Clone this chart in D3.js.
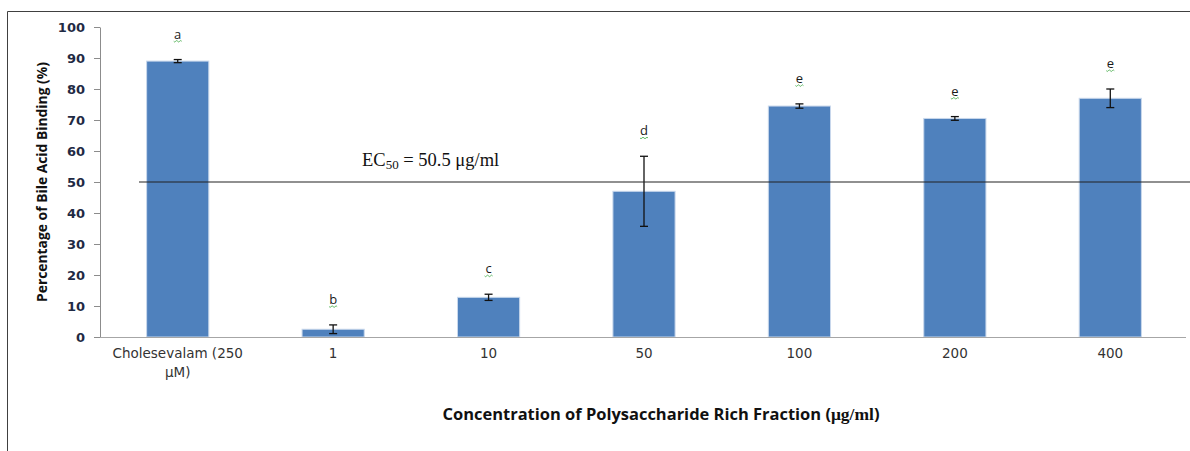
<!DOCTYPE html>
<html>
<head>
<meta charset="utf-8">
<script src="https://cdn.jsdelivr.net/npm/d3@7"></script>
<style>
  body { margin: 0; background: #fff; }
  svg { display: block; }
</style>
</head>
<body>
<script>
// =================== Data ======================
const categories = ["Cholesevalam (250 μM)", "1", "10", "50", "100", "200", "400"];
const binding = [89, 2.5, 12.8, 47, 74.5, 70.5, 77];
const errors = [0.5, 1.4, 1.0, 11.3, 0.7, 0.6, 3.0];
const letters = ["a", "b", "c", "d", "e", "e", "e"];
const yTicks = [0, 10, 20, 30, 40, 50, 60, 70, 80, 90, 100];
const ec50 = 50;

const data = categories.map(function(c, i) {
  return {cat: c, value: binding[i], err: errors[i], letter: letters[i]};
});

// =================== Chart Prep ======================
const W = 1190, H = 451;
var margin = {top: 27, right: 2, bottom: 114, left: 100},
    width = W - margin.left - margin.right,
    height = H - margin.top - margin.bottom;

var x = d3.scaleBand()
          .domain(categories)
          .range([0, width])
          .paddingInner(0.6)
          .paddingOuter(0.3);

var y = d3.scaleLinear()
          .domain([0, 100])
          .range([height, 0]);

var svg = d3.select("body").append("svg")
            .attr("width", W)
            .attr("height", H);

// outer frame (only the top and left edges are visible)
svg.append("path")
   .attr("d", "M7.5," + H + "V11.5H" + W)
   .attr("fill", "none")
   .attr("stroke", "#404040")
   .attr("stroke-width", 1);

var g = svg.append("g")
           .attr("transform", "translate(" + margin.left + "," + margin.top + ")");

// =================== Axes ======================
var yAxis = g.append("g")
   .call(d3.axisLeft(y).tickValues(yTicks).tickSize(6).tickPadding(9).tickSizeOuter(0));
yAxis.select(".domain").attr("stroke", "#8c8c8c");
yAxis.selectAll(".tick line").attr("stroke", "#8c8c8c");
yAxis.selectAll(".tick text")
   .attr("font-family", "'DejaVu Sans', sans-serif")
   .attr("font-size", 13)
   .attr("font-weight", "bold")
   .attr("fill", "#1f2a44");

// bars
g.selectAll(".bar")
   .data(data)
   .enter()
   .append("rect")
   .attr("class", "bar")
   .attr("x", function(d) { return x(d.cat); })
   .attr("width", x.bandwidth())
   .attr("y", function(d) { return y(d.value); })
   .attr("height", function(d) { return height - y(d.value); })
   .attr("fill", "#4f81bd")
   .attr("stroke", "#c9d8ec")
   .attr("stroke-width", 1);

// x axis line
g.append("line")
   .attr("x1", 0).attr("x2", width - 2)
   .attr("y1", height + 0.5).attr("y2", height + 0.5)
   .attr("stroke", "#a6a6a6");

// x tick labels (wrap the first one like Excel does)
var xLab = g.selectAll(".xlab")
   .data(data)
   .enter()
   .append("text")
   .attr("class", "xlab")
   .attr("x", function(d) { return x(d.cat) + x.bandwidth() / 2; })
   .attr("y", height + 21)
   .attr("text-anchor", "middle")
   .attr("font-family", "'DejaVu Sans', sans-serif")
   .attr("font-size", 13.5)
   .attr("fill", "#333");
xLab.each(function(d) {
  var t = d3.select(this);
  var parts = d.cat.length > 10 ? ["Cholesevalam (250", "μM)"] : [d.cat];
  parts.forEach(function(p, i) {
    t.append("tspan")
     .attr("x", t.attr("x"))
     .attr("dy", i === 0 ? 0 : 19)
     .text(p);
  });
});

// error bars
var eb = g.selectAll(".err")
   .data(data)
   .enter()
   .append("g")
   .attr("class", "err")
   .attr("stroke", "#111")
   .attr("stroke-width", 1.3);
eb.append("line")
   .attr("x1", function(d) { return x(d.cat) + x.bandwidth() / 2; })
   .attr("x2", function(d) { return x(d.cat) + x.bandwidth() / 2; })
   .attr("y1", function(d) { return y(d.value + d.err); })
   .attr("y2", function(d) { return y(d.value - d.err); });
[1, -1].forEach(function(s) {
  eb.append("line")
     .attr("x1", function(d) { return x(d.cat) + x.bandwidth() / 2 - 4; })
     .attr("x2", function(d) { return x(d.cat) + x.bandwidth() / 2 + 4; })
     .attr("y1", function(d) { return y(d.value + s * d.err); })
     .attr("y2", function(d) { return y(d.value + s * d.err); });
});

// significance letters with their green squiggle
var lab = g.selectAll(".sig")
   .data(data)
   .enter()
   .append("g")
   .attr("class", "sig")
   .attr("transform", function(d) {
     return "translate(" + (x(d.cat) + x.bandwidth() / 2) + "," + (y(d.value + d.err + 8) + 4) + ")";
   });
lab.append("text")
   .attr("text-anchor", "middle")
   .attr("font-family", "'Open Sans', sans-serif")
   .attr("font-size", 13)
   .attr("fill", "#1a1a1a")
   .text(function(d) { return d.letter; });
lab.append("path")
   .attr("d", "M-4,2.5q1,1.5 2,0t2,0t2,0t2,0")
   .attr("fill", "none")
   .attr("stroke", "#4caf50")
   .attr("stroke-width", 0.9);

// EC50 reference line
g.append("line")
   .attr("x1", 39).attr("x2", W - margin.left)
   .attr("y1", y(ec50)).attr("y2", y(ec50))
   .attr("stroke", "#222")
   .attr("stroke-width", 1.2);

var ecText = g.append("text")
   .attr("x", 262)
   .attr("y", y(ec50) - 16)
   .attr("font-family", "'Liberation Serif', serif")
   .attr("font-size", 18.5)
   .attr("fill", "#111");
ecText.append("tspan").text("EC");
ecText.append("tspan").attr("font-size", 13).attr("dy", 3).text("50");
ecText.append("tspan").attr("dy", -3).text(" = 50.5 μg/ml");

// =================== Axis titles ======================
svg.append("text")
   .attr("transform", "translate(47,182) rotate(-90)")
   .attr("text-anchor", "middle")
   .attr("font-family", "'Open Sans', sans-serif")
   .attr("font-size", 15)
   .attr("font-weight", "bold")
   .attr("fill", "#111")
   .attr("textLength", 240)
   .attr("lengthAdjust", "spacingAndGlyphs")
   .text("Percentage of Bile Acid Binding (%)");

var xt = svg.append("text")
   .attr("x", 661)
   .attr("y", 420)
   .attr("text-anchor", "middle")
   .attr("font-family", "'Open Sans', sans-serif")
   .attr("font-size", 16)
   .attr("font-weight", "bold")
   .attr("fill", "#111")
   .attr("textLength", 437)
   .attr("lengthAdjust", "spacingAndGlyphs");
xt.append("tspan").text("Concentration of Polysaccharide Rich Fraction (");
xt.append("tspan").attr("font-family", "'Liberation Serif', serif").attr("font-size", 17).text("μg/ml");
xt.append("tspan").text(")");
</script>
</body>
</html>
